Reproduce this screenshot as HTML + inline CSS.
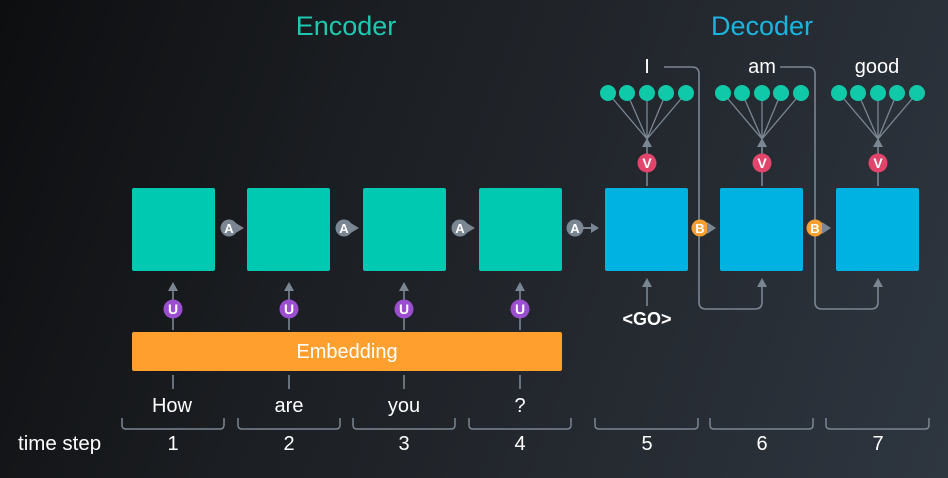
<!DOCTYPE html>
<html><head><meta charset="utf-8"><style>
html,body{margin:0;padding:0;width:948px;height:478px;overflow:hidden}
body{background:linear-gradient(110deg,#0d0e10 0%,#1b1e22 35%,#262b32 70%,#2e3640 100%)}
text{font-family:"Liberation Sans","DejaVu Sans",sans-serif}
</style></head><body>
<svg width="948" height="478" viewBox="0 0 948 478" xmlns="http://www.w3.org/2000/svg">
<text x="346" y="35" font-size="27" fill="#1ec8b0" text-anchor="middle">Encoder</text>
<text x="762" y="35" font-size="27" fill="#1ab4e0" text-anchor="middle">Decoder</text>

<g fill="#00c9b2">
<rect x="132" y="188" width="83" height="83" rx="2"/>
<rect x="247" y="188" width="83" height="83" rx="2"/>
<rect x="363" y="188" width="83" height="83" rx="2"/>
<rect x="479" y="188" width="83" height="83" rx="2"/>
</g>
<g fill="#00b2e2">
<rect x="605" y="188" width="83" height="83" rx="2"/>
<rect x="720" y="188" width="83" height="83" rx="2"/>
<rect x="836" y="188" width="83" height="83" rx="2"/>
</g>

<g fill="#7b8693">
<g><circle cx="229" cy="228" r="8.5"/><polygon points="234,222 244,228 234,234"/></g>
<g><circle cx="344" cy="228" r="8.5"/><polygon points="349,222 359,228 349,234"/></g>
<g><circle cx="460" cy="228" r="8.5"/><polygon points="465,222 475,228 465,234"/></g>
<g><circle cx="575" cy="228" r="8.5"/><line x1="583" y1="228" x2="592" y2="228" stroke="#7b8693" stroke-width="2"/><polygon points="591,223 599,228 591,233"/></g>
</g>
<g font-size="13" fill="#fff" text-anchor="middle" font-weight="bold">
<text x="229" y="233">A</text><text x="344" y="233">A</text><text x="460" y="233">A</text><text x="575" y="233">A</text>
</g>

<g fill="none" stroke="#7b8693" stroke-width="1.6">
<path d="M664 67 H692 Q699 67 699 74 V302 Q699 309 706 309 H755 Q762 309 762 302 V283"/>
<path d="M780 67 H808 Q815 67 815 74 V302 Q815 309 822 309 H871 Q878 309 878 302 V283"/>
<line x1="647" y1="306" x2="647" y2="283"/>
</g>
<g fill="#7b8693">
<polygon points="642,287 647,278 652,287"/>
<polygon points="757,287 762,278 767,287"/>
<polygon points="873,287 878,278 883,287"/>
<g><circle cx="700" cy="228" r="8.5" fill="#f5a030"/><polygon points="707,222 716,228 707,234"/></g>
<g><circle cx="815" cy="228" r="8.5" fill="#f5a030"/><polygon points="822,222 831,228 822,234"/></g>
</g>
<g font-size="13" fill="#fff" text-anchor="middle" font-weight="bold">
<text x="700" y="233">B</text><text x="815" y="233">B</text>
</g>
<text x="647" y="325" font-size="18" font-weight="bold" fill="#fff" text-anchor="middle">&lt;GO&gt;</text>

<g stroke="#7b8693" stroke-width="1.6">
<line x1="173" y1="330" x2="173" y2="287"/><line x1="289" y1="330" x2="289" y2="287"/>
<line x1="404" y1="330" x2="404" y2="287"/><line x1="520" y1="330" x2="520" y2="287"/>
</g>
<g fill="#7b8693">
<polygon points="168,291 173,282 178,291"/><polygon points="284,291 289,282 294,291"/>
<polygon points="399,291 404,282 409,291"/><polygon points="515,291 520,282 525,291"/>
</g>
<g fill="#9b4fd0">
<circle cx="173" cy="309" r="9.5"/><circle cx="289" cy="309" r="9.5"/><circle cx="404" cy="309" r="9.5"/><circle cx="520" cy="309" r="9.5"/>
</g>
<g font-size="14" fill="#fff" text-anchor="middle" font-weight="bold">
<text x="173" y="314">U</text><text x="289" y="314">U</text><text x="404" y="314">U</text><text x="520" y="314">U</text>
</g>

<rect x="132" y="332" width="430" height="39" rx="2" fill="#ff9f2e"/>
<text x="347" y="358" font-size="20" fill="#fff" text-anchor="middle">Embedding</text>
<g stroke="#7b8693" stroke-width="1.6">
<line x1="173" y1="375" x2="173" y2="389"/><line x1="289" y1="375" x2="289" y2="389"/>
<line x1="404" y1="375" x2="404" y2="389"/><line x1="520" y1="375" x2="520" y2="389"/>
</g>
<g font-size="20" fill="#fff" text-anchor="middle">
<text x="172" y="412">How</text><text x="289" y="412">are</text><text x="404" y="412">you</text><text x="520" y="412">?</text>
</g>

<g stroke="#7b8693" stroke-width="1.3" fill="none">
<path d="M608 93 L647 139 M627 93 L647 139 M647 93 L647 139 M666 93 L647 139 M686 93 L647 139"/>
<path d="M723 93 L762 139 M742 93 L762 139 M762 93 L762 139 M781 93 L762 139 M801 93 L762 139"/>
<path d="M839 93 L878 139 M858 93 L878 139 M878 93 L878 139 M897 93 L878 139 M917 93 L878 139"/>
<line x1="647" y1="186" x2="647" y2="142" stroke-width="1.6"/>
<line x1="762" y1="186" x2="762" y2="142" stroke-width="1.6"/>
<line x1="878" y1="186" x2="878" y2="142" stroke-width="1.6"/>
</g>
<g fill="#7b8693">
<polygon points="642,147 647,138 652,147"/><polygon points="757,147 762,138 767,147"/><polygon points="873,147 878,138 883,147"/>
</g>
<g fill="#10c9a9">
<circle cx="608" cy="93" r="8"/><circle cx="627" cy="93" r="8"/><circle cx="647" cy="93" r="8"/><circle cx="666" cy="93" r="8"/><circle cx="686" cy="93" r="8"/>
<circle cx="723" cy="93" r="8"/><circle cx="742" cy="93" r="8"/><circle cx="762" cy="93" r="8"/><circle cx="781" cy="93" r="8"/><circle cx="801" cy="93" r="8"/>
<circle cx="839" cy="93" r="8"/><circle cx="858" cy="93" r="8"/><circle cx="878" cy="93" r="8"/><circle cx="897" cy="93" r="8"/><circle cx="917" cy="93" r="8"/>
</g>
<g fill="#e2456b">
<circle cx="647" cy="163" r="9.5"/><circle cx="762" cy="163" r="9.5"/><circle cx="878" cy="163" r="9.5"/>
</g>
<g font-size="14" fill="#fff" text-anchor="middle" font-weight="bold">
<text x="647" y="168">V</text><text x="762" y="168">V</text><text x="878" y="168">V</text>
</g>
<g font-size="20" fill="#fff" text-anchor="middle">
<text x="647" y="73">I</text><text x="762" y="73">am</text><text x="877" y="73">good</text>
</g>

<g fill="none" stroke="#7b8693" stroke-width="1.5">
<path d="M122 418 V425 Q122 429 126 429 H220 Q224 429 224 425 V418"/>
<path d="M238 418 V425 Q238 429 242 429 H336 Q340 429 340 425 V418"/>
<path d="M353 418 V425 Q353 429 357 429 H451 Q455 429 455 425 V418"/>
<path d="M469 418 V425 Q469 429 473 429 H567 Q571 429 571 425 V418"/>
<path d="M595 418 V425 Q595 429 599 429 H694 Q698 429 698 425 V418"/>
<path d="M710 418 V425 Q710 429 714 429 H809 Q813 429 813 425 V418"/>
<path d="M826 418 V425 Q826 429 830 429 H925 Q929 429 929 425 V418"/>
</g>
<g font-size="20" fill="#fff" text-anchor="middle">
<text x="173" y="450">1</text><text x="289" y="450">2</text><text x="404" y="450">3</text><text x="520" y="450">4</text>
<text x="647" y="450">5</text><text x="762" y="450">6</text><text x="878" y="450">7</text>
</g>
<text x="18" y="450" font-size="20.5" fill="#fff">time step</text>
</svg>
</body></html>
